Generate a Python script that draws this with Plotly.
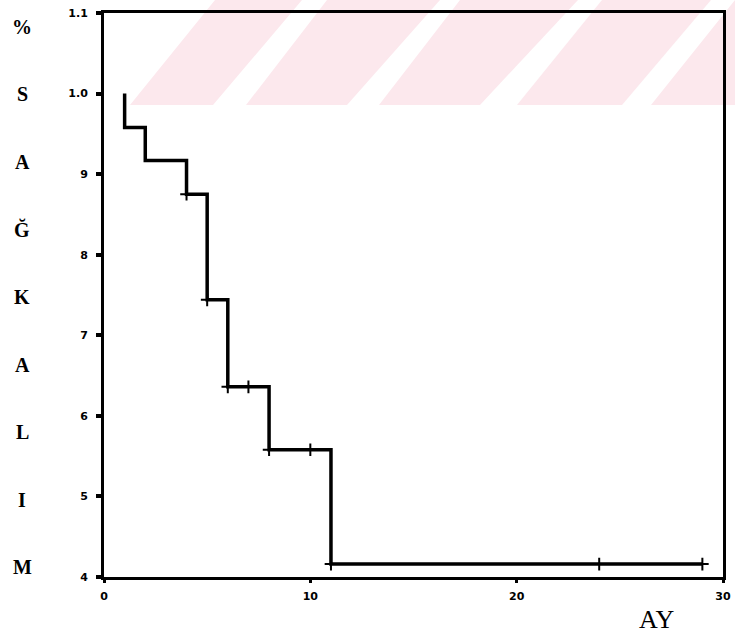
import plotly.graph_objects as go

# Kaplan-Meier survival estimate (months vs. cumulative survival)
event_times = [1, 1, 2, 4, 5, 6, 8, 11, 29]
survival = [1.0, 0.958, 0.917, 0.875, 0.744, 0.636, 0.558, 0.416, 0.416]

# censored observations (months)
censor_times = [4, 5, 6, 7, 8, 10, 11, 24, 29]

y_tick_vals = [0.4, 0.5, 0.6, 0.7, 0.8, 0.9, 1.0, 1.1]
y_tick_text = ["4", "5", "6", "7", "8", "9", "1.0", "1.1"]
x_tick_vals = [0, 10, 20, 30]
x_tick_text = ["0", "10", "20", "30"]

side_letters = ["%", "S", "A", "Ğ", "K", "A", "L", "I", "M"]
x_title = "AY"


def surv_at(t):
    """Step-function value of the survival curve at time t."""
    val = survival[0]
    for tt, s in zip(event_times, survival):
        if tt <= t:
            val = s
    return val


censor_surv = [surv_at(t) for t in censor_times]

W, H = 735, 636
L, R, T, B = 104, 12, 13, 59
pw, ph = W - L - R, H - T - B


def px(x):
    return (x - L) / pw


def py(y):
    return (H - B - y) / ph


fig = go.Figure()

fig.add_trace(go.Scatter(
    x=event_times, y=survival, mode="lines",
    line=dict(shape="hv", color="black", width=3.5),
    hoverinfo="skip", showlegend=False,
))
fig.add_trace(go.Scatter(
    x=censor_times, y=censor_surv, mode="markers",
    marker=dict(symbol="cross-thin", size=9, line=dict(color="black", width=2)),
    hoverinfo="skip", showlegend=False,
))

# light pink diagonal bands across the top of the page
bands = [
    (130, 213, 215, 302),
    (246, 347, 327, 440),
    (379, 480, 460, 578),
    (517, 622, 602, 711),
    (651, 740, 735, 740),
]
shapes = []
y_bot, y_top = 105, 0
for b0, b1, t0, t1 in bands:
    path = (f"M {px(b0)},{py(y_bot)} L {px(b1)},{py(y_bot)} "
            f"L {px(t1)},{py(y_top)} L {px(t0)},{py(y_top)} Z")
    shapes.append(dict(type="path", path=path, xref="paper", yref="paper",
                       fillcolor="rgb(252,232,237)", line=dict(width=0),
                       layer="below"))

annotations = []
n = len(side_letters)
top_px, bot_px = 27, 567
for i, ch in enumerate(side_letters):
    ypix = top_px + i * (bot_px - top_px) / (n - 1)
    annotations.append(dict(
        text=ch, x=px(22), y=py(ypix), xref="paper", yref="paper",
        showarrow=False, xanchor="center", yanchor="middle",
        font=dict(family="Liberation Serif", size=20, color="black", weight="bold"),
    ))
annotations.append(dict(
    text=x_title, x=px(656), y=py(619), xref="paper", yref="paper",
    showarrow=False, xanchor="center", yanchor="middle",
    font=dict(family="Liberation Serif", size=26, color="black"),
))

tick_font = dict(family="DejaVu Sans", size=11, color="black", weight="bold")

fig.update_layout(
    width=W, height=H,
    margin=dict(l=L, r=R, t=T, b=B, autoexpand=False),
    paper_bgcolor="white", plot_bgcolor="rgba(0,0,0,0)",
    shapes=shapes, annotations=annotations,
    xaxis=dict(
        range=[0, 30], tickvals=x_tick_vals, ticktext=x_tick_text,
        showgrid=False, zeroline=False, showline=True, mirror=True,
        linecolor="black", linewidth=3, ticks="outside", ticklen=3,
        tickwidth=3, tickcolor="black", tickfont=tick_font, automargin=False,
        ticklabelstandoff=4,
    ),
    yaxis=dict(
        range=[0.4, 1.1], tickvals=y_tick_vals, ticktext=y_tick_text,
        showgrid=False, zeroline=False, showline=True, mirror=True,
        linecolor="black", linewidth=3, ticks="outside", ticklen=5,
        tickwidth=4, tickcolor="black", tickfont=tick_font, automargin=False,
        ticklabelstandoff=6,
    ),
)

fig.write_html("out.html")
